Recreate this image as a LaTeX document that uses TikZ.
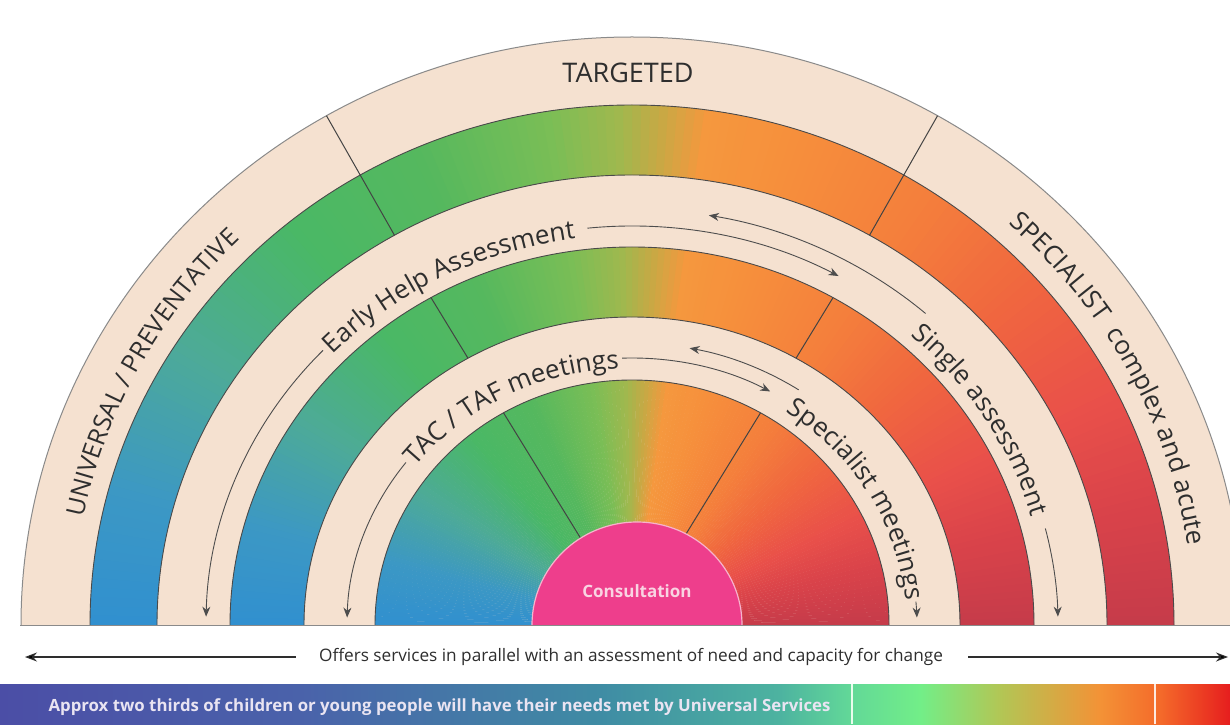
\documentclass[tikz,border=0pt]{standalone}
\usepackage{fontspec}
\setmainfont{Open Sans}
\usetikzlibrary{calc,decorations.text,arrows.meta}

% palette
\definecolor{beige}{HTML}{F5E1D0}
\definecolor{ink}{HTML}{2E2E2E}
\definecolor{ringedge}{HTML}{4A4A4A}
\definecolor{outeredge}{HTML}{8A8A8A}
\definecolor{consult}{HTML}{EE3E8C}
\definecolor{consultedge}{HTML}{F7B3CC}
\definecolor{consulttext}{HTML}{F9D3E2}
\definecolor{bartext}{HTML}{E9E4F2}
% angular gradient stops (blue on the left, red on the right)
\definecolor{g0}{HTML}{C23A4A}
\definecolor{g1}{HTML}{D8424A}
\definecolor{g2}{HTML}{E9504A}
\definecolor{g3}{HTML}{F0663F}
\definecolor{g4}{HTML}{F47F3C}
\definecolor{g5}{HTML}{F68E3C}
\definecolor{g6}{HTML}{F5983E}
\definecolor{g7}{HTML}{C9A844}
\definecolor{g8}{HTML}{A0B84E}
\definecolor{g9}{HTML}{7ABE56}
\definecolor{g10}{HTML}{55B85E}
\definecolor{g11}{HTML}{4AB866}
\definecolor{g12}{HTML}{4DAA98}
\definecolor{g13}{HTML}{3C98C4}
\definecolor{g14}{HTML}{2E8ED2}
% bottom bar stops
\definecolor{b0}{HTML}{4B4EA6}
\definecolor{b1}{HTML}{4A62AA}
\definecolor{b2}{HTML}{3F8CA4}
\definecolor{b3}{HTML}{4DB3A0}
\definecolor{b4}{HTML}{62D898}
\definecolor{b5}{HTML}{72EE88}
\definecolor{b6}{HTML}{B2C655}
\definecolor{b7}{HTML}{F39236}
\definecolor{b8}{HTML}{F46A2A}
\definecolor{b9}{HTML}{E61E1E}

\pgfdeclarehorizontalshading{barshade}{100bp}{%
  color(0bp)=(b0); color(25bp)=(b0); color(37.2bp)=(b1); color(49.39bp)=(b2);
  color(56.71bp)=(b3); color(59.55bp)=(b4); color(62.4bp)=(b5);
  color(65.65bp)=(b6); color(69.72bp)=(b7); color(72.15bp)=(b8);
  color(75bp)=(b9); color(100bp)=(b9)}

\newcommand\bandfontL{\fontsize{25}{25}\selectfont}
\newcommand\bandfontR{\fontsize{26}{26}\selectfont}
\newcommand\bandfontB{\fontsize{26}{26}\selectfont}

\begin{document}
\begin{tikzpicture}[x=1pt,y=1pt,
  ringline/.style={draw=ringedge,line width=0.9pt},
  divider/.style={draw=ringedge!90!black,line width=1pt},
  flow/.style={draw=ink!85,line width=0.9pt,-{Stealth[length=10pt,width=8pt]}},
  longarrow/.style={draw=ink,line width=1.1pt,-{Stealth[length=12pt,width=9pt]}},
  innertext/.style={decorate,decoration={text along path,text color=ink,
      text={|\bandfontB|#1}}}]
\useasboundingbox (0,0) rectangle (1230,724);
\fill[white] (0,0) rectangle (1230,724);

\coordinate (C) at (632,99);
\coordinate (Cc) at (637,99);

\begin{scope}
\clip (0,0) rectangle (1230,724);
% outer half disc in beige
\fill[beige] ($(C)+(611,0)$) arc[start angle=0,end angle=180,x radius=611,y radius=588] -- cycle;
% the three coloured rings, filled with an angular fan
\begin{scope}[even odd rule]
  \clip (0,99) rectangle (1230,724);
  \clip (C) ellipse[x radius=542,y radius=520]
        (C) ellipse[x radius=475,y radius=450]
        (C) ellipse[x radius=402,y radius=378]
        (C) ellipse[x radius=328,y radius=308]
        (C) ellipse[x radius=257,y radius=245];
  \foreach \a/\b/\ca/\cb in {-3/12/g0/g1,12/25/g1/g2,25/40/g2/g3,40/55/g3/g4,
      55/70/g4/g5,70/81/g5/g6,81/86/g6/g7,86/91/g7/g8,91/99/g8/g9,
      99/114/g9/g10,114/130/g10/g11,130/148/g11/g12,148/165/g12/g13,
      165/183/g13/g14}{
    \pgfmathtruncatemacro\bm{\b-1}
    \foreach \t in {\a,...,\bm}{
      \pgfmathtruncatemacro\p{100*(\b-\t)/(\b-\a)}
      \pgfmathsetmacro\tn{\t+1.1}
      \fill[\ca!\p!\cb] (C) -- +(\t:900) -- +(\tn:900) -- cycle;
    }
  }
\end{scope}
% ring boundaries
\draw[draw=outeredge,line width=1pt] ($(C)+(611,0)$) arc[start angle=0,end angle=180,x radius=611,y radius=588];
\foreach \rx/\ry in {542/520,475/450,402/378,328/308,257/245}
  \draw[ringline] ($(C)+(\rx,0)$) arc[start angle=0,end angle=180,x radius=\rx,y radius=\ry];
% radial dividers between the three levels
\foreach \ang in {120,60}{
  \draw[divider] ($(C)+(\ang:611 and 588)$) -- ($(C)+(\ang:475 and 450)$);
  \draw[divider] ($(C)+(\ang:402 and 378)$) -- ($(C)+(\ang:328 and 308)$);
  \draw[divider] ($(C)+(\ang:257 and 245)$) -- ($(C)+(\ang:60 and 60)$);
}
% consultation half disc
\fill[consult] ($(Cc)+(105,0)$) arc[start angle=0,end angle=180,x radius=105,y radius=103] -- cycle;
\draw[draw=consultedge,line width=1.2pt] ($(Cc)+(105,0)$) arc[start angle=0,end angle=180,x radius=105,y radius=103];
\draw[draw=outeredge,line width=1pt] (20,99) -- (1230,99);
\end{scope}

\node[font=\fontsize{17}{17}\selectfont\bfseries,text=consulttext] (consult) at (637,133) {Consultation};

% outer band labels
\node[font=\fontsize{27}{27}\selectfont,text=ink,anchor=base] (targeted) at (628,641) {TARGETED};
\path[decorate,decoration={text along path,text color=ink,
      text={|\bandfontL|UNIVERSAL / PREVENTATIVE}}]
  ($(C)+(168.5:560 and 540)$) arc[start angle=168.5,end angle=100,x radius=560,y radius=540];
\path[decorate,decoration={text along path,text color=ink,
      text={|\bandfontR|SPECIALIST{\ } complex and acute}}]
  ($(C)+(48:562 and 540)$) arc[start angle=48,end angle=0,x radius=562,y radius=540];

% middle band: assessments
\path[innertext={Early Help Assessment}]
  ($(C)+(136:416 and 390)$) arc[start angle=136,end angle=60,x radius=416,y radius=390];
\path[innertext={Single assessment}]
  ($(C)+(48:416 and 390)$) arc[start angle=48,end angle=0,x radius=416,y radius=390];
\draw[flow] ($(C)+(136.5:426 and 399)$) arc[start angle=136.5,end angle=178.8,x radius=426,y radius=399];
\draw[flow] ($(C)+(96:426 and 399)$) arc[start angle=96,end angle=61,x radius=426,y radius=399];
\draw[flow] ($(C)+(48.5:443 and 416)$) arc[start angle=48.5,end angle=80,x radius=443,y radius=416];
\draw[flow] ($(C)+(14:426 and 399)$) arc[start angle=14,end angle=1.2,x radius=426,y radius=399];

% inner band: meetings
\path[innertext={TAC / TAF meetings}]
  ($(C)+(142:275 and 257)$) arc[start angle=142,end angle=60,x radius=275,y radius=257];
\path[innertext={Specialist meetings}]
  ($(C)+(56:275 and 257)$) arc[start angle=56,end angle=0,x radius=275,y radius=257];
\draw[flow] ($(C)+(142.5:285 and 267)$) arc[start angle=142.5,end angle=178.4,x radius=285,y radius=267];
\draw[flow] ($(C)+(92:285 and 267)$) arc[start angle=92,end angle=61,x radius=285,y radius=267];
\draw[flow] ($(C)+(56.5:302 and 282)$) arc[start angle=56.5,end angle=79,x radius=302,y radius=282];
\draw[flow] ($(C)+(5:285 and 267)$) arc[start angle=5,end angle=1.6,x radius=285,y radius=267];

% parallel-services arrow
\node[font=\fontsize{17.2}{17.2}\selectfont,text=ink] (offers) at (631,67)
  {Offers services in parallel with an assessment of need and capacity for change};
\coordinate (leftEnd) at (25,67);
\coordinate (rightEnd) at (1228,67);
\draw[longarrow,shorten <=20pt] (offers.west) -- (leftEnd);
\draw[longarrow,shorten <=22pt] (offers.east) -- (rightEnd);

% bottom bar
\shade[shading=barshade] (0,0) rectangle (1230,40);
\draw[white!85!b5,line width=1.2pt] (852,0) -- (852,40);
\draw[white!85!b8,line width=1.2pt] (1155,0) -- (1155,40);
\node[anchor=base west,font=\fontsize{16.8}{16.8}\selectfont\bfseries,text=bartext] (barlabel) at (45,13)
  {Approx two thirds of children or young people will have their needs met by Universal Services};
\end{tikzpicture}
\end{document}
